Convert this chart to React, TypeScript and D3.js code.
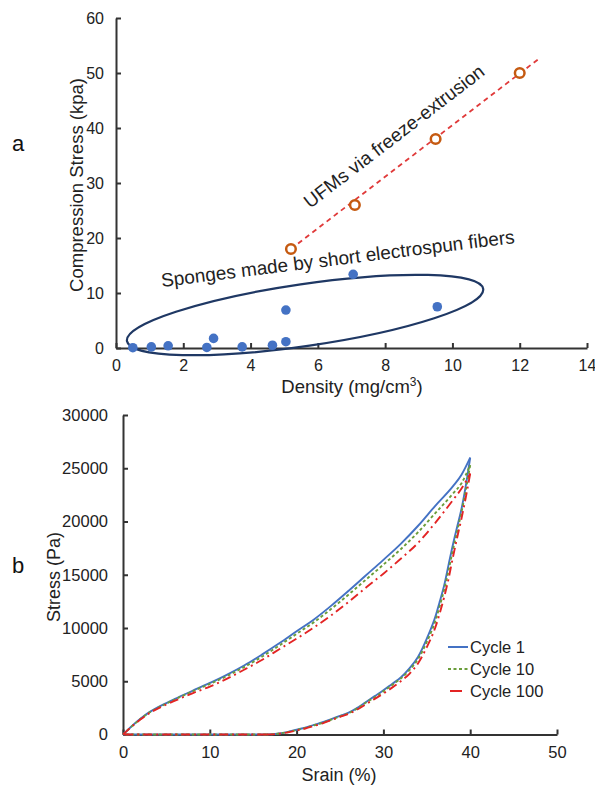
import React, { useEffect, useRef } from 'react';
import * as d3 from 'd3';

// panel a: density vs compression stress
const spongeDensity = [0.5, 1.05, 1.55, 2.7, 2.9, 3.75, 4.65, 5.05, 5.05, 7.05, 9.55];
const spongeStress = [0.05, 0.2, 0.4, 0.1, 1.75, 0.2, 0.5, 1.15, 6.9, 13.4, 7.5];
const ufmDensity = [5.2, 7.1, 9.5, 12.0];
const ufmStress = [18, 26, 38, 50];
const ufmTrendDensity = [5.2, 12.55];
const ufmTrendStress = [18, 52.5];
const densityTicks = [0, 2, 4, 6, 8, 10, 12, 14];
const stressTicksA = [0, 10, 20, 30, 40, 50, 60];

// panel b: cyclic compression, loading then unloading
const loadStrain = [0, 1, 2, 3, 4, 5, 6, 8, 10, 12, 14, 16, 18, 20, 22, 24, 26, 28, 30, 32, 34, 36, 38, 39, 40];
const loadCycle1 = [0, 780, 1480, 2080, 2550, 2950, 3350, 4100, 4840, 5620, 6500, 7500, 8560, 9690, 10800, 12100, 13500, 14950, 16400, 17900, 19600, 21500, 23300, 24400, 26000];
const loadCycle10 = [0, 760, 1450, 2040, 2500, 2900, 3300, 4050, 4750, 5500, 6350, 7300, 8350, 9450, 10550, 11800, 13150, 14550, 15950, 17400, 19000, 20800, 22600, 23600, 25300];
const loadCycle100 = [0, 740, 1400, 1980, 2430, 2820, 3180, 3870, 4500, 5250, 6100, 7000, 8000, 9000, 10050, 11200, 12450, 13800, 15100, 16500, 18000, 19900, 22000, 23100, 24500];
const unloadStrain = [40, 39.5, 39, 38.5, 38, 37.5, 37, 36.5, 36, 35, 34, 33, 32, 31, 30, 29, 28, 27, 26, 25, 24, 23, 22, 21, 20, 19, 18, 17, 16.5];
const unloadCycle1 = [26000, 23400, 21200, 19500, 17800, 15900, 14000, 12500, 11100, 9000, 7300, 6200, 5350, 4750, 4150, 3600, 3050, 2500, 2050, 1750, 1450, 1150, 900, 650, 450, 250, 100, 20, 0];
const unloadCycle10 = [25300, 23000, 20900, 19100, 17300, 15400, 13600, 12100, 10700, 8700, 7100, 6050, 5250, 4650, 4050, 3500, 3000, 2450, 2000, 1700, 1400, 1100, 870, 620, 420, 230, 90, 15, 0];
const unloadCycle100 = [24500, 22300, 20300, 18500, 16600, 14600, 12900, 11400, 10100, 8200, 6700, 5700, 5000, 4400, 3850, 3350, 2850, 2350, 1950, 1650, 1350, 1050, 800, 560, 380, 200, 80, 10, 0];
const returnStrain = [16.5, 0];
const returnStress = [0, 0];
const strainTicks = [0, 10, 20, 30, 40, 50];
const stressTicksB = [0, 5000, 10000, 15000, 20000, 25000, 30000];

const cycles = [
  { name: 'Cycle 1', load: loadCycle1, unload: unloadCycle1, color: '#4472c4', dash: null, legendDash: null },
  { name: 'Cycle 10', load: loadCycle10, unload: unloadCycle10, color: '#6a9d3a', dash: '3,2.5', legendDash: '3,2.5' },
  { name: 'Cycle 100', load: loadCycle100, unload: unloadCycle100, color: '#e32424', dash: '9,4,2,4', legendDash: null },
];

const FONT = '"Liberation Sans", Arial, sans-serif';
const INK = '#222';

const App = () => {
  const ref = useRef<SVGSVGElement | null>(null);

  useEffect(() => {
    const svg = d3.select(ref.current);
    svg.selectAll('*').remove();

    const styleAxis = (g: any, fontSize: number) => {
      g.select('.domain').attr('stroke', '#333').attr('stroke-width', 2);
      g.selectAll('.tick line').attr('stroke', '#333').attr('stroke-width', 2);
      g.selectAll('.tick text').attr('fill', INK).attr('font-size', fontSize).attr('font-family', FONT);
    };

    // ---------- panel a ----------
    const xa = d3.scaleLinear().domain([0, 14]).range([116, 587]);
    const ya = d3.scaleLinear().domain([0, 60]).range([348, 18]);

    const gxa = svg.append('g').attr('transform', `translate(0,${ya(0)})`)
      .call(d3.axisBottom(xa).tickValues(densityTicks).tickSizeInner(-5).tickSizeOuter(0).tickPadding(12));
    styleAxis(gxa, 16);
    const gya = svg.append('g').attr('transform', `translate(${xa(0)},0)`)
      .call(d3.axisLeft(ya).tickValues(stressTicksA).tickSizeInner(-5).tickSizeOuter(0).tickPadding(12));
    styleAxis(gya, 16);

    // ellipse round the sponge data
    svg.append('ellipse')
      .attr('transform', `translate(${xa(5.62)},${ya(6.0)}) rotate(-8.3)`)
      .attr('rx', 180).attr('ry', 31)
      .attr('fill', 'none').attr('stroke', '#1f3864').attr('stroke-width', 2.2);

    // trend line of the UFMs
    svg.append('path')
      .datum(ufmTrendDensity.map((d, i) => [d, ufmTrendStress[i]]))
      .attr('fill', 'none').attr('stroke', '#e03a3a').attr('stroke-width', 1.8)
      .attr('stroke-dasharray', '5,4')
      .attr('d', d3.line<number[]>().x(d => xa(d[0])).y(d => ya(d[1])));

    svg.append('g').selectAll('circle')
      .data(spongeDensity.map((d, i) => [d, spongeStress[i]]))
      .join('circle')
      .attr('cx', d => xa(d[0])).attr('cy', d => ya(d[1])).attr('r', 4.8)
      .attr('fill', '#4472c4');

    svg.append('g').selectAll('circle')
      .data(ufmDensity.map((d, i) => [d, ufmStress[i]]))
      .join('circle')
      .attr('cx', d => xa(d[0])).attr('cy', d => ya(d[1])).attr('r', 4.8)
      .attr('fill', 'white').attr('stroke', '#c55a11').attr('stroke-width', 2.5);

    svg.append('text')
      .attr('transform', 'translate(162,287) rotate(-7.1)')
      .attr('font-family', FONT).attr('font-size', 19).attr('fill', INK)
      .text('Sponges made by short electrospun fibers');

    svg.append('text')
      .attr('transform', 'translate(310,209) rotate(-37.5)')
      .attr('font-family', FONT).attr('font-size', 19).attr('fill', INK)
      .text('UFMs via freeze-extrusion');

    const xLabelA = svg.append('text')
      .attr('x', 352).attr('y', 393).attr('text-anchor', 'middle')
      .attr('font-family', FONT).attr('font-size', 18.5).attr('fill', INK);
    xLabelA.append('tspan').text('Density (mg/cm');
    xLabelA.append('tspan').attr('dy', -7).attr('font-size', 12).text('3');
    xLabelA.append('tspan').attr('dy', 7).text(')');

    svg.append('text')
      .attr('transform', 'translate(83,185) rotate(-90)')
      .attr('text-anchor', 'middle')
      .attr('font-family', FONT).attr('font-size', 18.5).attr('fill', INK)
      .text('Compression Stress (kpa)');

    svg.append('text').attr('x', 12).attr('y', 151)
      .attr('font-family', FONT).attr('font-size', 22).attr('fill', '#111').text('a');

    // ---------- panel b ----------
    const xb = d3.scaleLinear().domain([0, 50]).range([123, 557]);
    const yb = d3.scaleLinear().domain([0, 30000]).range([734.5, 415]);

    const gxb = svg.append('g').attr('transform', `translate(0,${yb(0)})`)
      .call(d3.axisBottom(xb).tickValues(strainTicks).tickSizeInner(-5).tickSizeOuter(0).tickPadding(12));
    styleAxis(gxb, 16.5);
    const gyb = svg.append('g').attr('transform', `translate(${xb(0)},0)`)
      .call(d3.axisLeft(yb).tickValues(stressTicksB).tickFormat(d3.format('d')).tickSizeInner(-5).tickSizeOuter(0).tickPadding(15));
    styleAxis(gyb, 16.5);

    const smooth = d3.line<number[]>().x(d => xb(d[0])).y(d => yb(d[1])).curve(d3.curveMonotoneX);
    const straight = d3.line<number[]>().x(d => xb(d[0])).y(d => yb(d[1]));
    cycles.forEach(c => {
      const g = svg.append('g')
        .attr('fill', 'none').attr('stroke', c.color).attr('stroke-width', 1.9)
        .attr('stroke-linejoin', 'round')
        .attr('stroke-dasharray', c.dash);
      g.append('path').datum(loadStrain.map((s, i) => [s, c.load[i]])).attr('d', smooth);
      g.append('path').datum(unloadStrain.map((s, i) => [s, c.unload[i]])).attr('d', smooth);
      g.append('path').datum(returnStrain.map((s, i) => [s, returnStress[i]])).attr('d', straight);
    });

    // legend
    const legend = svg.append('g').attr('transform', 'translate(448,647)');
    cycles.forEach((c, i) => {
      const row = legend.append('g').attr('transform', `translate(0,${i * 22})`);
      row.append('line')
        .attr('x1', i === 2 ? 2 : 0).attr('x2', i === 2 ? 14 : 20)
        .attr('stroke', c.color).attr('stroke-width', 2)
        .attr('stroke-dasharray', c.legendDash);
      row.append('text').attr('x', 22).attr('y', 6)
        .attr('font-family', FONT).attr('font-size', 16.5).attr('fill', INK)
        .text(c.name);
    });

    svg.append('text')
      .attr('x', 339).attr('y', 781).attr('text-anchor', 'middle')
      .attr('font-family', FONT).attr('font-size', 18).attr('fill', INK)
      .text('Srain (%)');

    svg.append('text')
      .attr('transform', 'translate(60,577) rotate(-90)')
      .attr('text-anchor', 'middle')
      .attr('font-family', FONT).attr('font-size', 18).attr('fill', INK)
      .text('Stress (Pa)');

    svg.append('text').attr('x', 12).attr('y', 573)
      .attr('font-family', FONT).attr('font-size', 22).attr('fill', '#111').text('b');
  }, []);

  return (
    <svg
      ref={ref}
      width={595}
      height={785}
      style={{ position: 'absolute', left: 0, top: 0, background: 'white' }}
    />
  );
};

export default App;
